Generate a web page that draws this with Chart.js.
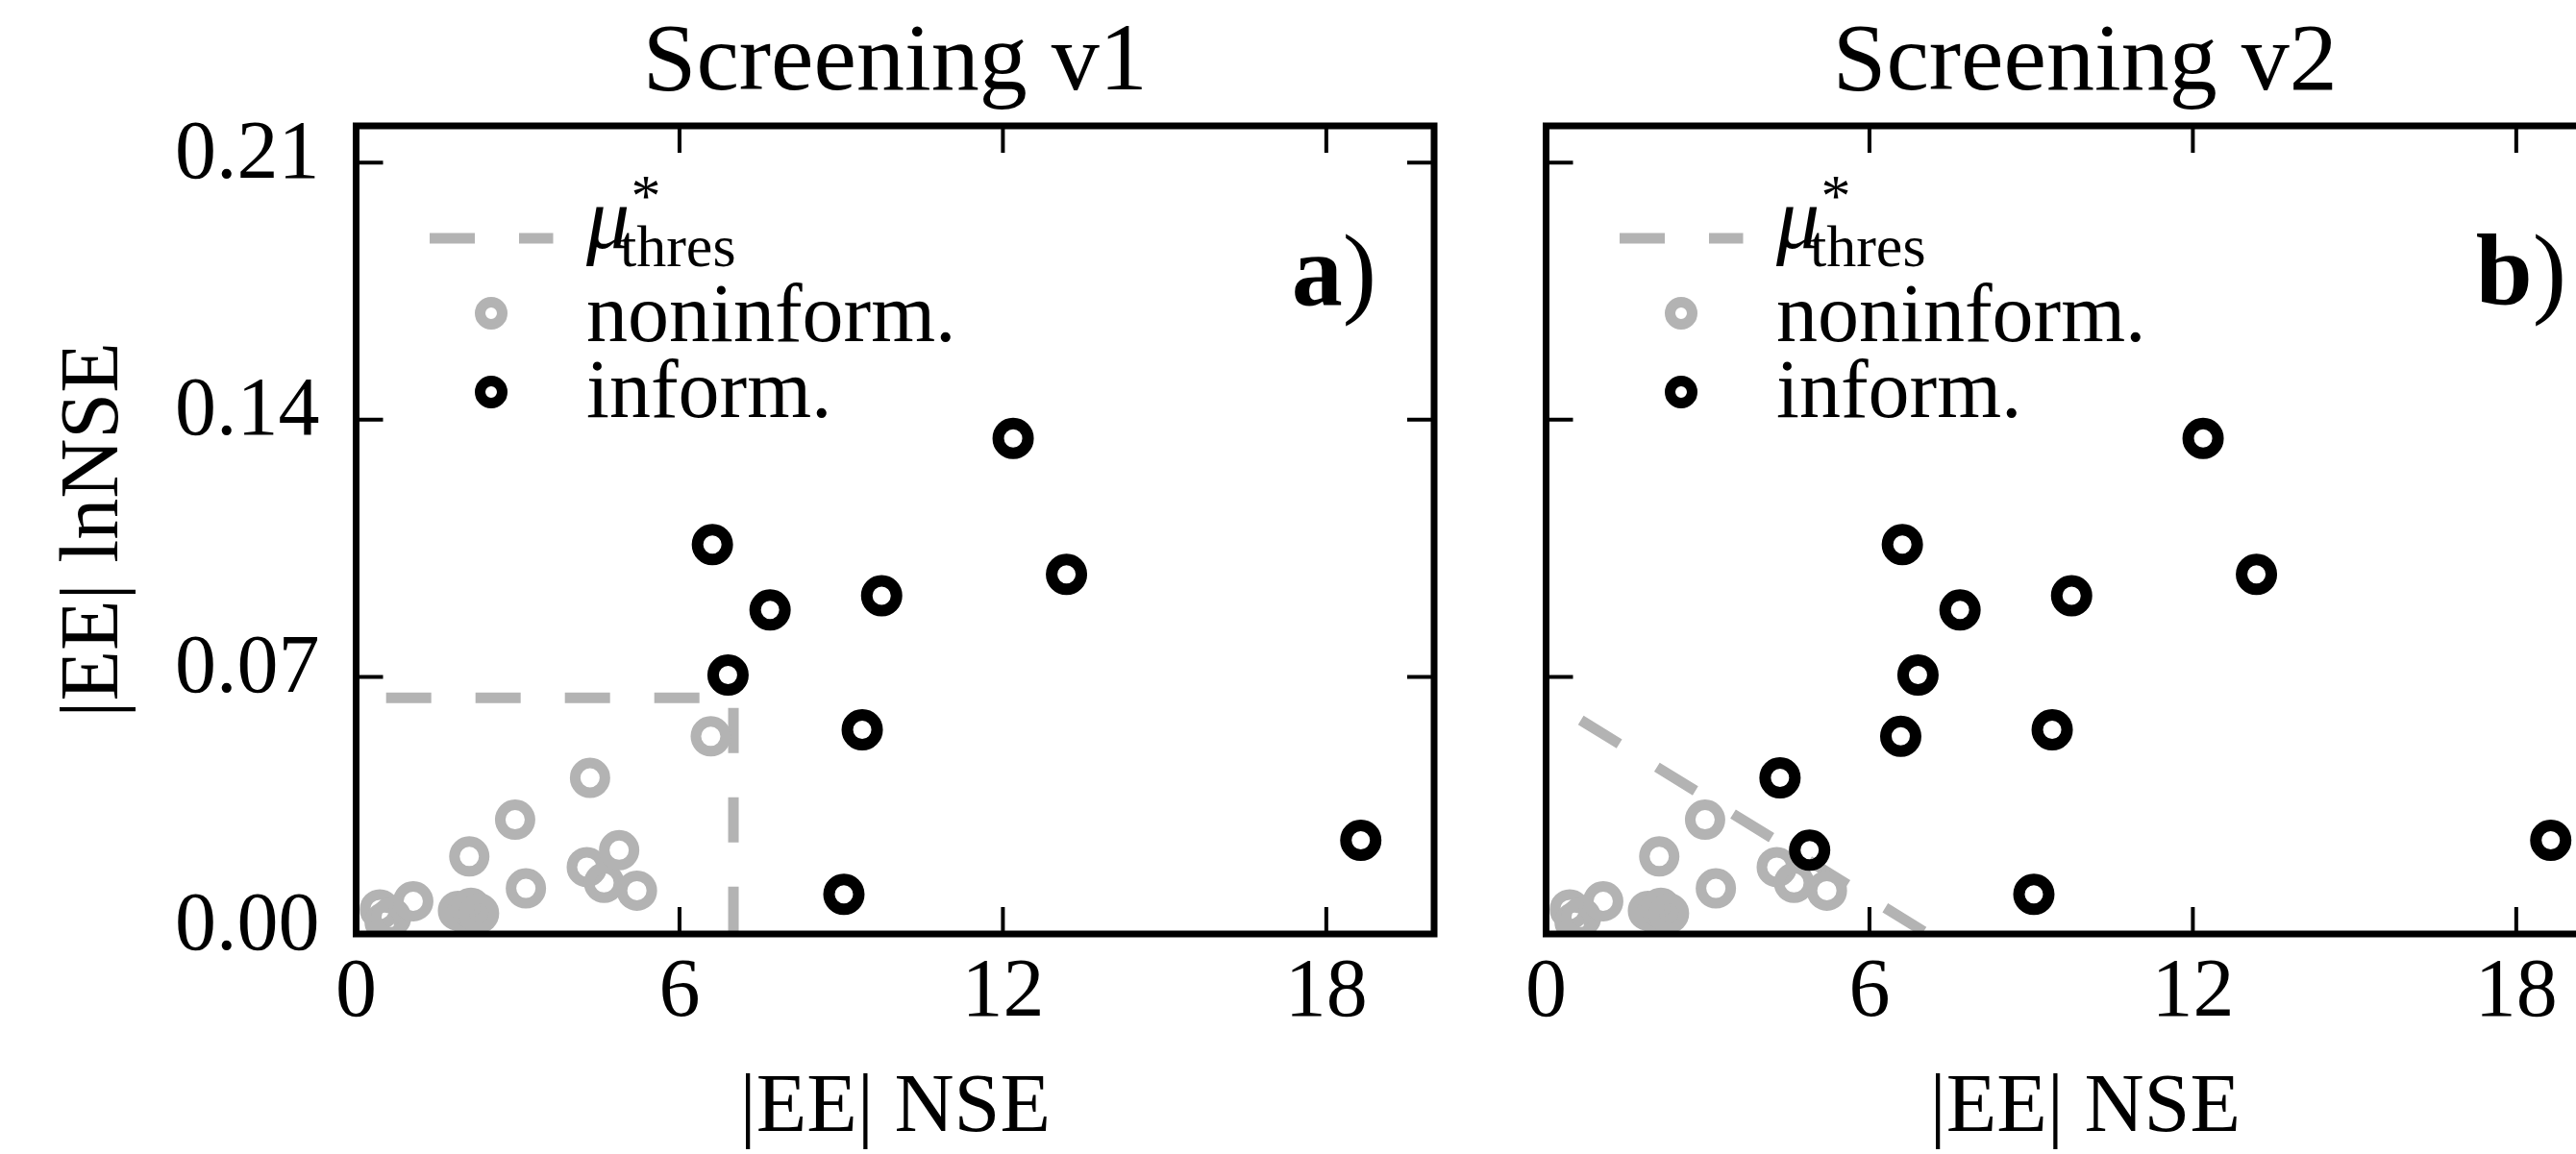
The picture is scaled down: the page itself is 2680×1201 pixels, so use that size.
<!DOCTYPE html>
<html>
<head>
<meta charset="utf-8">
<script src="https://cdn.jsdelivr.net/npm/chart.js@4"></script>
<style>
  html, body { margin: 0; padding: 0; background: #fff; overflow: hidden; width: 2680px; height: 1201px; }
  canvas { position: absolute; top: 0; }
  #chartA { left: 0; }
  #chartB { left: 1550px; }
</style>
</head>
<body>
<canvas id="chartA" width="1550" height="1201"></canvas>
<canvas id="chartB" width="1240" height="1201"></canvas>
<script>
const nseTicks = [0, 6, 12, 18];
const lnnseTicks = [0, 0.07, 0.14, 0.21];
const legendLabels = ["μ", "noninform.", "inform."];
const panelTitles = ["Screening v1", "Screening v2"];
const panelTags = ["a", "b"];

// Screening v1
const noninfV1Nse   = [0.44, 0.53, 0.65, 1.06, 1.89, 2.04, 2.13, 2.28, 2.10, 2.95, 3.15, 4.28, 4.60, 5.21, 4.34, 4.88, 6.58];
const noninfV1LnNse = [0.0067, 0.0032, 0.0045, 0.0089, 0.0063, 0.0054, 0.0071, 0.0056, 0.0211, 0.0311, 0.0124, 0.0182, 0.0139, 0.0118, 0.0425, 0.0228, 0.0538];
const infV1Nse   = [12.19, 6.61, 7.68, 9.75, 13.18, 6.90, 9.39, 9.05, 18.64];
const infV1LnNse = [0.1349, 0.1060, 0.0882, 0.0921, 0.0979, 0.0705, 0.0556, 0.0108, 0.0255];
const thresV1Nse   = [0.556, 7.0, 7.0];
const thresV1LnNse = [0.0643, 0.0643, 0];

// Screening v2
const noninfV2Nse   = [0.44, 0.53, 0.65, 1.06, 1.89, 2.04, 2.13, 2.28, 2.10, 2.95, 3.15, 4.28, 4.60, 5.21];
const noninfV2LnNse = [0.0067, 0.0032, 0.0045, 0.0089, 0.0063, 0.0054, 0.0071, 0.0056, 0.0211, 0.0311, 0.0124, 0.0182, 0.0139, 0.0118];
const infV2Nse   = [12.19, 6.61, 7.68, 9.75, 13.18, 6.90, 9.39, 9.05, 18.64, 4.34, 4.89, 6.58];
const infV2LnNse = [0.1349, 0.1060, 0.0882, 0.0921, 0.0979, 0.0705, 0.0556, 0.0108, 0.0255, 0.0425, 0.0228, 0.0538];
const thresV2Nse   = [0.645, 7.08];
const thresV2LnNse = [0.0582, 0];

const gray = "#b3b3b3";
const serif = "'Liberation Serif', 'Times New Roman', serif";
Chart.defaults.font.family = serif;
Chart.defaults.color = "#000";

const toPoints = (xs, ys) => xs.map((v, i) => ({ x: v, y: ys[i] }));

// frame, inward ticks, title, panel tag and legend
const panelDecor = {
  id: "panelDecor",
  afterDraw(chart, args, opts) {
    const { ctx, chartArea: a, scales: { x, y } } = chart;
    ctx.save();
    ctx.strokeStyle = "#000";
    ctx.lineWidth = 4;
    ctx.beginPath();
    nseTicks.forEach(v => {
      const px = x.getPixelForValue(v);
      ctx.moveTo(px, a.bottom); ctx.lineTo(px, a.bottom - 28);
      ctx.moveTo(px, a.top); ctx.lineTo(px, a.top + 28);
    });
    lnnseTicks.forEach(v => {
      const py = y.getPixelForValue(v);
      ctx.moveTo(a.left, py); ctx.lineTo(a.left + 28, py);
      ctx.moveTo(a.right, py); ctx.lineTo(a.right - 28, py);
    });
    ctx.stroke();
    ctx.lineWidth = 7;
    ctx.strokeRect(a.left, a.top, a.right - a.left, a.bottom - a.top);

    ctx.fillStyle = "#000";
    ctx.textBaseline = "alphabetic";
    ctx.textAlign = "center";
    ctx.font = "100px " + serif;
    ctx.fillText(opts.title, (a.left + a.right) / 2, 93);

    ctx.textAlign = "right";
    ctx.font = "106px " + serif;
    const rx = a.right - 60;
    ctx.fillText(")", rx, 317);
    const pw = ctx.measureText(")").width;
    ctx.font = "bold 106px " + serif;
    ctx.fillText(opts.tag, rx - pw, 317);

    // legend
    const lx = a.left;
    ctx.strokeStyle = gray;
    ctx.lineWidth = 11;
    ctx.setLineDash([47, 46]);
    ctx.beginPath();
    ctx.moveTo(lx + 76.5, 248);
    ctx.lineTo(lx + 205, 248);
    ctx.stroke();
    ctx.setLineDash([]);
    ctx.lineWidth = 11;
    [[gray, 326], ["#000", 408]].forEach(([c, my]) => {
      ctx.strokeStyle = c;
      ctx.beginPath();
      ctx.arc(lx + 140.5, my, 11.5, 0, Math.PI * 2);
      ctx.stroke();
    });
    ctx.textAlign = "left";
    ctx.font = "italic 90px " + serif;
    ctx.fillText(legendLabels[0], lx + 239.5, 258);
    ctx.font = "62px " + serif;
    ctx.fillText("thres", lx + 274.5, 277);
    ctx.fillText("*", lx + 286, 224);
    ctx.font = "86px " + serif;
    ctx.fillText(legendLabels[1], lx + 239.5, 355);
    ctx.fillText(legendLabels[2], lx + 239.5, 434);
    ctx.restore();
  }
};

function makeChart(id, cfg) {
  return new Chart(document.getElementById(id), {
    type: "scatter",
    data: {
      datasets: [
        {
          label: "inform.",
          data: toPoints(cfg.infX, cfg.infY),
          pointStyle: "circle",
          pointRadius: 15.5,
          pointBorderWidth: 12,
          pointBorderColor: "#000",
          pointBackgroundColor: "rgba(0,0,0,0)",
          clip: 0,
        },
        {
          label: "noninform.",
          data: toPoints(cfg.nonX, cfg.nonY),
          pointStyle: "circle",
          pointRadius: 15.5,
          pointBorderWidth: 11,
          pointBorderColor: gray,
          pointBackgroundColor: "rgba(0,0,0,0)",
          clip: 0,
        },
        {
          label: "thres",
          data: toPoints(cfg.thrX, cfg.thrY),
          showLine: true,
          borderColor: gray,
          borderWidth: 11,
          borderDash: [47, 46],
          pointRadius: 0,
          tension: 0,
          fill: false,
          clip: 0,
        },
      ],
    },
    options: {
      responsive: false,
      animation: false,
      events: [],
      layout: { padding: { left: 0, top: 131, right: cfg.padRight, bottom: 0 } },
      plugins: {
        legend: { display: false },
        tooltip: { enabled: false },
        panelDecor: { title: cfg.title, tag: cfg.tag },
      },
      scales: {
        x: {
          type: "linear",
          min: 0,
          max: 20,
          grid: { display: false, drawTicks: false },
          border: { display: false },
          afterBuildTicks: s => { s.ticks = nseTicks.map(v => ({ value: v })); },
          afterFit: s => { s.height = 229; },
          ticks: { font: { size: 86 }, color: "#000", padding: 11, maxRotation: 0 },
          title: {
            display: true,
            text: "|EE| NSE",
            color: "#000",
            font: { size: 86, lineHeight: 1 },
            padding: { top: 0, bottom: 4 },
          },
        },
        y: {
          type: "linear",
          min: 0,
          max: 0.22,
          grid: { display: false, drawTicks: false },
          border: { display: false },
          afterBuildTicks: s => { s.ticks = lnnseTicks.map(v => ({ value: v })); },
          afterFit: s => { s.width = cfg.yWidth; },
          ticks: {
            display: cfg.showY,
            font: { size: 86 },
            color: "#000",
            padding: 38,
            labelOffset: -7,
            callback: v => v.toFixed(2),
          },
          title: {
            display: cfg.showY,
            text: "|EE| lnNSE",
            color: "#000",
            font: { size: 86, lineHeight: 1 },
            padding: { top: 56, bottom: 0 },
          },
        },
      },
    },
    plugins: [panelDecor],
  });
}

makeChart("chartA", {
  nonX: noninfV1Nse, nonY: noninfV1LnNse,
  infX: infV1Nse, infY: infV1LnNse,
  thrX: thresV1Nse, thrY: thresV1LnNse,
  title: panelTitles[0], tag: panelTags[0],
  yWidth: 370.5, padRight: 58, showY: true,
});

makeChart("chartB", {
  nonX: noninfV2Nse, nonY: noninfV2LnNse,
  infX: infV2Nse, infY: infV2LnNse,
  thrX: thresV2Nse, thrY: thresV2LnNse,
  title: panelTitles[1], tag: panelTags[1],
  yWidth: 58.5, padRight: 60, showY: false,
});
</script>
</body>
</html>
